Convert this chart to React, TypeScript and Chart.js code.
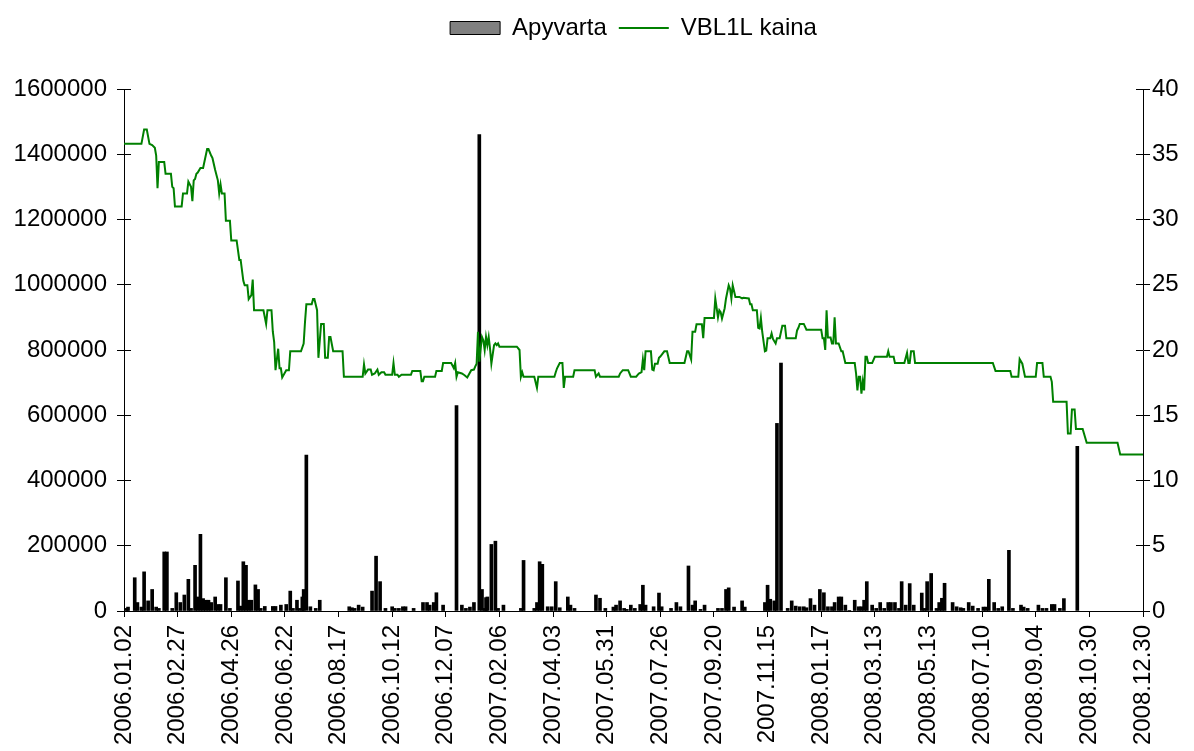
import React, { useEffect, useRef } from 'react';
import { Chart, registerables } from 'chart.js';

Chart.register(...registerables);

// Tick labels of the category (trading day) axis, one every 40 trading days
const dateLabels = [
  '2006.01.02', '2006.02.27', '2006.04.26', '2006.06.22', '2006.08.17', '2006.10.12',
  '2006.12.07', '2007.02.06', '2007.04.03', '2007.05.31', '2007.07.26', '2007.09.20',
  '2007.11.15', '2008.01.17', '2008.03.13', '2008.05.13', '2008.07.10', '2008.09.04',
  '2008.10.30', '2008.12.30',
];
const dayStep = 40;
const lastDay = 760;

// VBL1L price (right axis): trading-day index and price at each change point
const priceDays = [
  0, 13, 15, 17, 19, 21, 23, 24, 25, 26, 30, 31, 35, 36, 37, 38, 43, 44, 47, 48,
  50, 51, 52, 53, 54, 55, 57, 59, 62, 63, 65, 66, 68, 70, 71, 72, 73, 75, 76, 79,
  80, 84, 86, 87, 89, 90, 92, 93, 95, 96, 97, 104, 106, 107, 110, 111, 112, 113, 115, 116,
  117, 118, 121, 123, 124, 132, 134, 135, 136, 140, 141, 142, 144, 145, 147, 149, 150, 152, 153, 154,
  156, 163, 164, 178, 179, 180, 182, 184, 185, 187, 189, 190, 192, 194, 195, 200, 201, 202, 204, 205,
  207, 214, 215, 221, 222, 223, 224, 232, 233, 237, 238, 244, 246, 247, 248, 249, 252, 254, 256, 259,
  261, 262, 263, 264, 265, 266, 267, 268, 269, 270, 271, 272, 273, 274, 276, 277, 278, 279, 280, 293,
  295, 296, 297, 298, 306, 308, 309, 321, 322, 323, 325, 327, 328, 329, 335, 336, 351, 352, 354, 355,
  369, 370, 372, 376, 378, 382, 384, 386, 387, 388, 389, 393, 394, 395, 396, 398, 399, 400, 403, 405,
  407, 418, 420, 421, 423, 424, 426, 427, 431, 432, 433, 440, 441, 443, 444, 445, 446, 448, 449, 451,
  452, 453, 454, 456, 459, 461, 462, 466, 467, 468, 469, 472, 473, 474, 475, 476, 478, 479, 480, 482,
  483, 484, 486, 487, 489, 491, 493, 494, 501, 502, 503, 504, 507, 509, 520, 521, 522, 523, 524, 525,
  527, 528, 529, 530, 531, 533, 535, 536, 538, 545, 546, 547, 548, 549, 550, 551, 552, 553, 554, 555,
  558, 560, 569, 570, 571, 574, 575, 582, 584, 585, 586, 587, 589, 590, 648, 650, 661, 662, 667, 668,
  670, 672, 680, 681, 685, 686, 691, 692, 693, 703, 704, 706, 707, 709, 710, 715, 718, 741, 743, 760,
];
const priceValues = [
  35.8, 35.8, 36.9, 36.9, 35.8, 35.7, 35.5, 34.9, 32.4, 34.4, 34.4, 33.5, 33.5, 32.5, 32.4, 31.0, 31.0, 32.0, 32.0, 32.9,
  32.5, 31.4, 33.0, 33.1, 33.5, 33.6, 33.95, 33.95, 35.4, 35.4, 34.9, 34.7, 33.8, 33.0, 32.0, 32.7, 32.0, 32.0, 29.9, 29.9,
  28.4, 28.4, 26.9, 26.9, 25.3, 24.96, 24.96, 23.9, 24.2, 25.4, 23.05, 23.05, 22.0, 23.05, 23.05, 21.4, 20.6, 18.45, 20.1, 18.6,
  18.6, 17.9, 18.45, 18.45, 19.9, 19.9, 20.5, 22.15, 23.5, 23.5, 23.9, 23.9, 23.05, 19.4, 22.0, 22.0, 19.4, 19.4, 21.0, 21.0,
  19.9, 19.9, 17.95, 17.95, 18.9, 18.2, 18.5, 18.5, 18.1, 18.2, 18.5, 18.1, 18.3, 18.3, 18.1, 18.1, 19.0, 18.1, 18.1, 17.95,
  18.1, 18.1, 18.4, 18.4, 17.6, 17.6, 17.95, 17.95, 18.4, 18.4, 19.0, 19.0, 18.6, 19.0, 17.95, 18.3, 18.2, 18.07, 17.9, 18.45,
  18.5, 18.75, 18.95, 21.4, 19.1, 20.1, 21.0, 20.75, 20.0, 21.0, 20.37, 21.0, 20.1, 18.95, 20.37, 20.5, 20.37, 20.5, 20.25, 20.25,
  20.0, 17.95, 18.3, 17.95, 17.95, 17.1, 17.95, 17.95, 18.3, 18.6, 19.0, 19.0, 17.1, 17.95, 17.95, 18.45, 18.45, 17.95, 18.2, 17.95,
  17.95, 18.2, 18.45, 18.45, 17.95, 17.95, 18.2, 18.3, 19.27, 18.45, 19.9, 19.9, 18.5, 18.45, 18.95, 18.95, 19.4, 19.5, 19.9, 19.9,
  19.0, 19.0, 19.9, 19.9, 19.27, 21.4, 21.4, 21.97, 21.97, 20.9, 22.46, 22.46, 23.95, 22.5, 23.05, 22.9, 22.4, 23.2, 23.95, 24.96,
  24.7, 23.95, 24.96, 24.07, 24.07, 23.95, 24.0, 23.95, 23.5, 23.5, 23.05, 23.05, 21.7, 21.65, 22.46, 21.4, 19.9, 19.95, 20.9, 20.9,
  21.27, 20.85, 20.5, 20.9, 20.9, 21.85, 21.85, 20.9, 20.9, 21.5, 21.7, 22.0, 22.0, 21.55, 21.55, 20.9, 20.9, 20.0, 23.05, 20.95,
  20.95, 20.5, 20.5, 22.5, 20.5, 20.5, 19.9, 19.9, 19.0, 19.0, 18.2, 16.9, 17.95, 17.95, 16.66, 17.6, 16.9, 19.48, 19.48, 19.0,
  19.0, 19.48, 19.48, 19.9, 19.48, 19.48, 19.0, 19.0, 19.78, 19.0, 19.0, 19.9, 19.9, 19.0, 19.0, 18.4, 18.4, 17.95, 17.95, 19.3,
  18.95, 17.95, 17.95, 19.0, 19.0, 17.95, 17.95, 17.56, 16.03, 16.03, 13.6, 13.6, 15.44, 15.44, 13.94, 13.94, 12.89, 12.89, 12.0, 12.0,
];

// Turnover (left axis): trading-day index and value of each visible bar
const barDays = [
  2, 3, 8, 10, 13, 15, 18, 21, 24, 26, 30, 32, 36, 39, 42, 45, 48, 50, 53, 55,
  57, 59, 61, 63, 65, 68, 70, 72, 76, 79, 85, 87, 89, 91, 93, 95, 98, 100, 102, 105,
  111, 113, 117, 121, 124, 126, 129, 131, 133, 134, 136, 139, 143, 146, 168, 170, 172, 175, 178, 185,
  188, 191, 195, 200, 202, 205, 208, 210, 216, 223, 226, 228, 231, 233, 238, 248, 252, 255, 258, 261,
  265, 267, 269, 270, 271, 274, 277, 279, 283, 296, 298, 306, 308, 310, 312, 316, 319, 322, 325, 331,
  333, 336, 352, 355, 359, 365, 367, 370, 373, 375, 378, 381, 385, 387, 389, 395, 399, 401, 408, 412,
  415, 421, 424, 426, 430, 433, 443, 446, 449, 451, 455, 461, 463, 478, 480, 482, 485, 487, 490, 495,
  498, 501, 504, 507, 509, 512, 515, 519, 522, 525, 528, 530, 533, 535, 538, 541, 545, 548, 550, 552,
  554, 558, 561, 564, 567, 570, 572, 575, 578, 580, 583, 586, 589, 595, 597, 599, 602, 606, 608, 610,
  612, 618, 621, 624, 626, 630, 633, 637, 641, 643, 645, 649, 652, 655, 660, 663, 669, 671, 674, 682,
  685, 688, 692, 694, 698, 701, 711,
];
const barValues = [
  8000, 12000, 102000, 26000, 12000, 120000, 31000, 66000, 12000, 8000, 181000, 181000, 8000, 56000, 26000, 49000, 97000, 8000, 140000, 43000,
  235000, 38000, 33000, 33000, 26000, 43000, 20000, 20000, 102000, 8000, 92000, 15000, 151000, 140000, 33000, 33000, 80000, 66000, 8000, 14000,
  14000, 14000, 18000, 20000, 61000, 8000, 33000, 8000, 43000, 66000, 478000, 13000, 8000, 33000, 13000, 10000, 8000, 18000, 12000, 61000,
  168000, 90000, 8000, 13000, 8000, 8000, 13000, 13000, 8000, 26000, 26000, 18000, 26000, 56000, 18000, 630000, 18000, 8000, 12000, 26000,
  1460000, 66000, 8000, 41000, 43000, 204000, 214000, 8000, 18000, 8000, 155000, 8000, 26000, 151000, 143000, 13000, 13000, 90000, 10000, 43000,
  18000, 8000, 49000, 39000, 8000, 12000, 18000, 31000, 8000, 5000, 18000, 8000, 20000, 79000, 18000, 13000, 55000, 13000, 8000, 26000,
  13000, 138000, 18000, 31000, 5000, 18000, 8000, 8000, 66000, 71000, 12000, 31000, 12000, 26000, 79000, 36000, 31000, 575000, 760000, 8000,
  31000, 15000, 13000, 13000, 10000, 38000, 18000, 66000, 56000, 13000, 13000, 26000, 43000, 43000, 18000, 2000, 33000, 13000, 13000, 33000,
  90000, 18000, 8000, 26000, 8000, 26000, 26000, 26000, 8000, 90000, 18000, 84000, 18000, 55000, 8000, 90000, 115000, 8000, 26000, 39000,
  85000, 26000, 13000, 10000, 8000, 26000, 15000, 8000, 12000, 12000, 97000, 26000, 8000, 13000, 186000, 8000, 18000, 12000, 8000, 18000,
  8000, 8000, 20000, 20000, 8000, 38000, 505000,
];

const seriesNames = ['Apyvarta', 'VBL1L kaina'];
const leftTicks = { min: 0, max: 1600000, step: 200000 };
const rightTicks = { min: 0, max: 40, step: 5 };

export default function App() {
  const ref = useRef<HTMLCanvasElement>(null);

  useEffect(() => {
    document.body.style.margin = '0';
    const canvas = ref.current;
    if (!canvas) return;
    const font = { family: '"Liberation Sans", Arial, Helvetica, sans-serif', size: 24 };

    const crossTicks = {
      id: 'crossTicks',
      afterDraw(chart: any) {
        const { ctx, chartArea } = chart;
        const y = chart.scales.y;
        const y1 = chart.scales.y1;
        ctx.save();
        ctx.strokeStyle = '#000';
        ctx.lineWidth = 1;
        y.ticks.forEach((t: any) => {
          const py = Math.floor(y.getPixelForValue(t.value)) + 0.5;
          ctx.beginPath();
          ctx.moveTo(chartArea.left, py);
          ctx.lineTo(chartArea.left + 7, py);
          ctx.stroke();
        });
        y1.ticks.forEach((t: any) => {
          const py = Math.floor(y1.getPixelForValue(t.value)) + 0.5;
          ctx.beginPath();
          ctx.moveTo(chartArea.right - 7, py);
          ctx.lineTo(chartArea.right, py);
          ctx.stroke();
        });
        ctx.restore();
      },
    };

    const legendSpace = {
      id: 'legendSpace',
      beforeLayout(chart: any) {
        const lg = chart.legend;
        if (lg && !lg.__patched) {
          const orig = lg.fit;
          lg.fit = function () {
            orig.call(this);
            this.height += 39;
          };
          lg.__patched = true;
        }
      },
    };

    const chart = new Chart(canvas, {
      type: 'bar',
      data: {
        datasets: [
          {
            type: 'bar',
            label: seriesNames[0],
            data: barDays.map((d, i) => ({ x: d, y: barValues[i] })),
            yAxisID: 'y',
            backgroundColor: '#000',
            borderWidth: 0,
            barThickness: 3,
            order: 1,
          } as any,
          {
            type: 'line',
            label: seriesNames[1],
            data: priceDays.map((d, i) => ({ x: d, y: priceValues[i] })),
            yAxisID: 'y1',
            borderColor: '#008000',
            backgroundColor: '#008000',
            borderWidth: 2,
            pointRadius: 0,
            tension: 0,
            fill: false,
            order: 0,
          } as any,
        ],
      },
      options: {
        responsive: false,
        animation: false,
        events: [],
        layout: { padding: { top: 4, left: 0, right: 0, bottom: 0 } },
        plugins: {
          tooltip: { enabled: false },
          legend: {
            position: 'top',
            fullSize: false,
            labels: {
              font,
              color: '#000',
              usePointStyle: true,
              pointStyleWidth: 50,
              boxHeight: 13,
              padding: 12,
              generateLabels: () => [
                {
                  text: seriesNames[0],
                  fillStyle: '#808080',
                  strokeStyle: '#000',
                  lineWidth: 1,
                  pointStyle: 'rect',
                  hidden: false,
                  datasetIndex: 0,
                  fontColor: '#000',
                } as any,
                {
                  text: seriesNames[1],
                  fillStyle: '#008000',
                  strokeStyle: '#008000',
                  lineWidth: 2,
                  pointStyle: 'line',
                  hidden: false,
                  datasetIndex: 1,
                  fontColor: '#000',
                } as any,
              ],
            },
          },
        },
        scales: {
          x: {
            type: 'linear',
            min: 0,
            max: lastDay,
            offset: false,
            afterFit: (s: any) => { s.height = 140; },
            grid: { display: true, drawOnChartArea: false, drawTicks: true, tickLength: 6, color: '#000', offset: false },
            border: { display: true, color: '#000', width: 1 },
            ticks: {
              stepSize: dayStep,
              autoSkip: false,
              maxRotation: 90,
              minRotation: 90,
              padding: 8,
              color: '#000',
              font,
              callback: (v: any) => {
                const i = Math.round(Number(v) / dayStep);
                return dateLabels[i] ?? '';
              },
            },
          },
          y: {
            type: 'linear',
            position: 'left',
            min: leftTicks.min,
            max: leftTicks.max,
            afterFit: (s: any) => { s.width = 124; },
            grid: { drawOnChartArea: false, drawTicks: true, tickLength: 7, color: '#000' },
            border: { display: true, color: '#000', width: 1 },
            ticks: {
              stepSize: leftTicks.step,
              padding: 10,
              color: '#000',
              font,
              callback: (v: any) => String(v),
            },
          },
          y1: {
            type: 'linear',
            position: 'right',
            min: rightTicks.min,
            max: rightTicks.max,
            afterFit: (s: any) => { s.width = 51; },
            grid: { drawOnChartArea: false, drawTicks: true, tickLength: 7, color: '#000' },
            border: { display: true, color: '#000', width: 1 },
            ticks: {
              stepSize: rightTicks.step,
              padding: 2,
              color: '#000',
              font,
              callback: (v: any) => String(v),
            },
          },
        },
      } as any,
      plugins: [crossTicks, legendSpace],
    });

    return () => chart.destroy();
  }, []);

  return (
    <canvas
      ref={ref}
      width={1194}
      height={751}
      style={{ display: 'block', width: '1194px', height: '751px' }}
    />
  );
}
